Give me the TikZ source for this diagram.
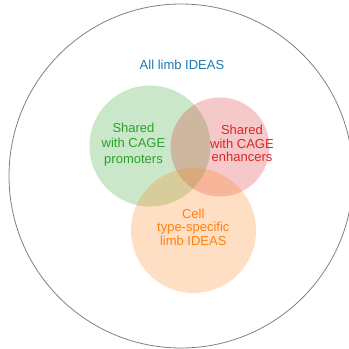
\documentclass[tikz,border=0pt]{standalone}
\usepackage{fontspec}
\setmainfont{Liberation Sans}
\definecolor{tabblue}{RGB}{31,119,180}
\definecolor{tabgreen}{RGB}{44,160,44}
\definecolor{tabred}{RGB}{214,39,40}
\definecolor{taborange}{RGB}{255,127,14}
\begin{document}
\begin{tikzpicture}[x=1pt,y=-1pt,
  setfill/.style={fill=#1,fill opacity=0.25,draw=none},
  lbl/.style={text=#1,align=center,anchor=base,inner sep=0pt,font=\fontsize{13}{13.4}\selectfont}]
\useasboundingbox (0,0) rectangle (349,349);
\clip (0,0) rectangle (349,349);
\draw[gray,line width=0.8pt] (181,176) circle[radius=172];
\path[setfill=tabgreen] (150,146) circle[radius=60.5];
\path[setfill=tabred] (220,147) circle[radius=49.5];
\path[setfill=taborange] (193.5,230.5) circle[radius=62.5];
\node[lbl=tabblue] (all) at (182,69.3) {All limb IDEAS};
\node[lbl=tabgreen,font=\fontsize{13}{15.5}\selectfont] (prom) at (133.5,163) {Shared\\with CAGE\\promoters};
\node[lbl=tabred] (enh) at (242,161.7) {Shared\\with CAGE\\enhancers};
\node[lbl=taborange] (cell) at (193.3,245) {Cell\\type-specific\\limb IDEAS};
\end{tikzpicture}
\end{document}
